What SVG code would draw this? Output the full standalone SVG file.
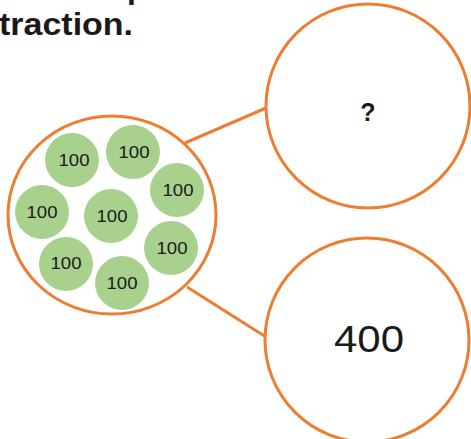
<svg xmlns="http://www.w3.org/2000/svg" width="471" height="439" viewBox="0 0 471 439">
<style>
.ring{fill:#fff;stroke:#ED7D31;stroke-width:3}
.conn{stroke:#ED7D31;stroke-width:3;fill:none}
.coin{fill:#A9D18E}
.lbl{font-family:"Liberation Sans",Arial,sans-serif;font-size:17px;fill:#1a1a1a;text-anchor:middle;dominant-baseline:central}
.title{font-family:"Liberation Sans",Arial,sans-serif;font-weight:bold;fill:#1a1a1a}
</style>
<rect width="471" height="439" fill="#fff"/>
<text class="title" x="127" y="-2" font-size="32">p</text>
<text class="title" x="-1" y="35" font-size="32" textLength="134" lengthAdjust="spacingAndGlyphs">traction.</text>
<g id="connectors">
<line class="conn" x1="185" y1="143" x2="266" y2="108"/>
<line class="conn" x1="187" y1="287" x2="266" y2="337"/>
</g>
<g id="whole">
<ellipse class="ring" cx="112" cy="215" rx="104" ry="99"/>
<g id="coins">
<circle class="coin" cx="72" cy="160" r="27"/><text class="lbl" x="74" y="160" textLength="31" lengthAdjust="spacingAndGlyphs">100</text>
<circle class="coin" cx="133" cy="152" r="27"/><text class="lbl" x="134" y="152" textLength="31" lengthAdjust="spacingAndGlyphs">100</text>
<circle class="coin" cx="177" cy="190" r="27"/><text class="lbl" x="178" y="190" textLength="31" lengthAdjust="spacingAndGlyphs">100</text>
<circle class="coin" cx="42" cy="212" r="27"/><text class="lbl" x="42" y="212" textLength="31" lengthAdjust="spacingAndGlyphs">100</text>
<circle class="coin" cx="111" cy="216" r="27"/><text class="lbl" x="112" y="216" textLength="31" lengthAdjust="spacingAndGlyphs">100</text>
<circle class="coin" cx="171" cy="248" r="27"/><text class="lbl" x="172" y="248" textLength="31" lengthAdjust="spacingAndGlyphs">100</text>
<circle class="coin" cx="66" cy="264" r="27"/><text class="lbl" x="66" y="263" textLength="31" lengthAdjust="spacingAndGlyphs">100</text>
<circle class="coin" cx="122" cy="283" r="27"/><text class="lbl" x="122" y="283" textLength="31" lengthAdjust="spacingAndGlyphs">100</text>
</g>
</g>
<g id="part-top">
<circle class="ring" cx="368" cy="106" r="102"/>
<text x="368" y="121" font-family="Liberation Sans,Arial,sans-serif" font-weight="bold" font-size="25" text-anchor="middle" fill="#1a1a1a">?</text>
</g>
<g id="part-bottom">
<circle class="ring" cx="367" cy="340" r="102"/>
<text x="369" y="352" font-family="Liberation Sans,Arial,sans-serif" font-size="37" text-anchor="middle" fill="#1a1a1a" textLength="70" lengthAdjust="spacingAndGlyphs">400</text>
</g>
</svg>
